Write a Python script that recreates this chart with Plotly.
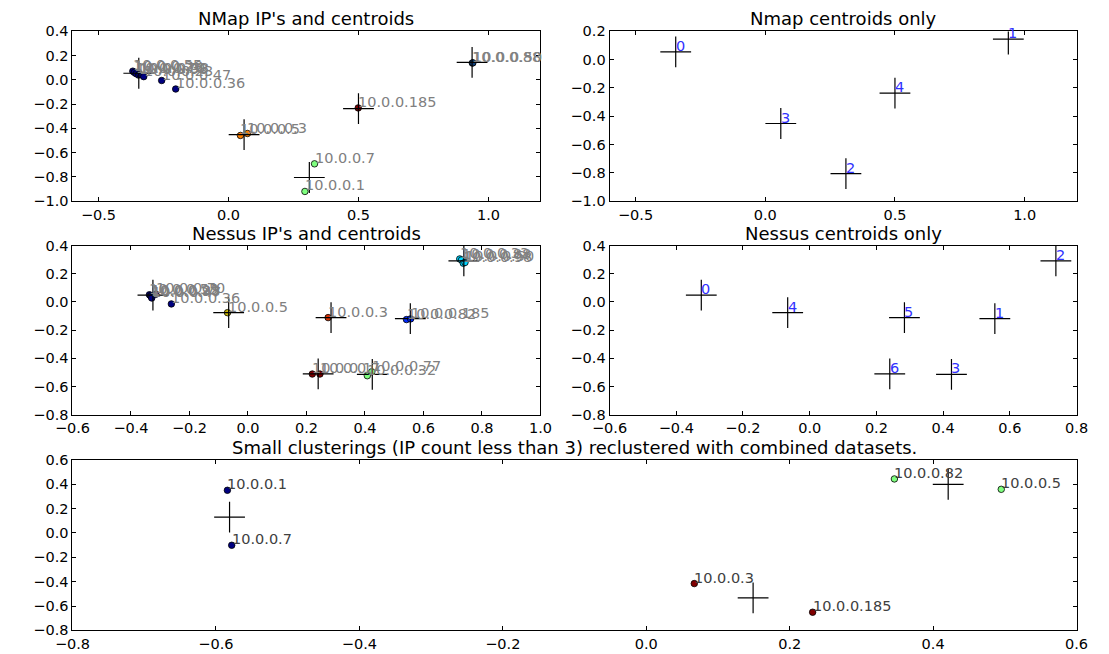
import plotly.graph_objects as go

# ---------------- data ----------------
# NMap IPs (panel 1)
nmap_x = [-0.368, -0.362, -0.355, -0.346, -0.340, -0.326, -0.257, -0.203,
          0.938, 0.940, 0.499, 0.046, 0.073, 0.331, 0.294]
nmap_y = [0.072, 0.062, 0.051, 0.040, 0.045, 0.027, -0.005, -0.075,
          0.139, 0.141, -0.231, -0.458, -0.442, -0.692, -0.920]
nmap_cluster = [0, 0, 0, 0, 0, 0, 0, 0, 1, 1, 4, 3, 3, 2, 2]
nmap_ip = ["10.0.0.55", "10.0.0.20", "10.0.0.70", "10.0.0.98", "10.0.0.33",
           "10.0.0.23", "10.0.0.47", "10.0.0.36", "10.0.0.88", "10.0.0.50",
           "10.0.0.185", "10.0.0.5", "10.0.0.3", "10.0.0.7", "10.0.0.1"]
nmap_colors = ["#000080", "#10407a", "#7fff7f", "#ff8000", "#800000"]

# NMap centroids (panels 1 and 2)
nmap_cx = [-0.345, 0.937, 0.311, 0.060, 0.500]
nmap_cy = [0.055, 0.145, -0.805, -0.451, -0.237]
nmap_cid = ["0", "1", "2", "3", "4"]

# Nessus IPs (panel 3)
nessus_x = [-0.337, -0.333, -0.331, -0.329, -0.315, -0.262,
            -0.070, 0.274, 0.542, 0.556,
            0.724, 0.730, 0.736, 0.742,
            0.220, 0.246, 0.408, 0.423]
nessus_y = [0.051, 0.045, 0.038, 0.028, 0.055, -0.014,
            -0.076, -0.111, -0.125, -0.120,
            0.305, 0.298, 0.275, 0.280,
            -0.511, -0.511, -0.523, -0.495]
nessus_cluster = [0, 0, 0, 0, 0, 0, 4, 5, 1, 1, 2, 2, 2, 2, 6, 6, 3, 3]
nessus_ip = ["10.0.0.55", "10.0.0.23", "10.0.0.98", "10.0.0.47", "10.0.0.70",
             "10.0.0.36", "10.0.0.5", "10.0.0.3", "10.0.0.82", "10.0.0.185",
             "10.0.0.33", "10.0.0.88", "10.0.0.98", "10.0.0.50",
             "10.0.0.1", "10.0.0.7", "10.0.0.32", "10.0.0.77"]
nessus_colors = ["#000080", "#002aff", "#00d4ff", "#7fff7f",
                 "#c8b400", "#d83000", "#800000"]

# Nessus centroids (panels 3 and 4)
nessus_cx = [-0.325, 0.555, 0.738, 0.425, -0.066, 0.284, 0.240]
nessus_cy = [0.048, -0.118, 0.291, -0.513, -0.076, -0.111, -0.510]
nessus_cid = ["0", "1", "2", "3", "4", "5", "6"]

# Small clusterings reclustered (panel 5)
small_x = [-0.584, -0.578, 0.067, 0.232, 0.346, 0.495]
small_y = [0.349, -0.102, -0.416, -0.651, 0.442, 0.357]
small_cluster = [0, 0, 2, 2, 1, 1]
small_ip = ["10.0.0.1", "10.0.0.7", "10.0.0.3", "10.0.0.185", "10.0.0.82", "10.0.0.5"]
small_colors = ["#000080", "#7fff7f", "#800000"]
small_cx = [-0.581, 0.421, 0.149]
small_cy = [0.129, 0.397, -0.534]

# axis ticks
ticks_x_nmap = [-0.5, 0.0, 0.5, 1.0]
ticks_y_nmap = [0.4, 0.2, 0.0, -0.2, -0.4, -0.6, -0.8, -1.0]
ticks_y_nmap_c = [0.2, 0.0, -0.2, -0.4, -0.6, -0.8, -1.0]
ticks_x_nessus = [-0.6, -0.4, -0.2, 0.0, 0.2, 0.4, 0.6, 0.8, 1.0]
ticks_x_nessus_c = [-0.6, -0.4, -0.2, 0.0, 0.2, 0.4, 0.6, 0.8]
ticks_y_nessus = [0.4, 0.2, 0.0, -0.2, -0.4, -0.6, -0.8]
ticks_x_small = [-0.8, -0.6, -0.4, -0.2, 0.0, 0.2, 0.4, 0.6]
ticks_y_small = [0.6, 0.4, 0.2, 0.0, -0.2, -0.4, -0.6, -0.8]

titles = ["NMap IP's and centroids", "Nmap centroids only",
          "Nessus IP's and centroids", "Nessus centroids only",
          "Small clusterings (IP count less than 3) reclustered with combined datasets."]

# ---------------- figure ----------------
W, H = 1109, 654
FONT = "DejaVu Sans"
fig = go.Figure()

def px_x(a, b):
    return [a / W, b / W]

def px_y(top, bottom):
    return [1 - bottom / H, 1 - top / H]

panels = [
    # (xdomain, ydomain, xrange, yrange, xticks, yticks)
    (px_x(56, 537), px_y(24, 198), [-0.6, 1.2], [-1.0, 0.4], ticks_x_nmap, ticks_y_nmap),
    (px_x(608, 1088), px_y(24, 198), [-0.6, 1.2], [-1.0, 0.2], ticks_x_nmap, ticks_y_nmap_c),
    (px_x(56, 537), px_y(243.5, 417), [-0.6, 1.0], [-0.8, 0.4], ticks_x_nessus, ticks_y_nessus),
    (px_x(608, 1088), px_y(243.5, 417), [-0.6, 0.8], [-0.8, 0.4], ticks_x_nessus_c, ticks_y_nessus),
    (px_x(56, 1088), px_y(463, 638), [-0.8, 0.6], [-0.8, 0.6], ticks_x_small, ticks_y_small),
]

layout = dict(width=W, height=H, autosize=False,
              margin=dict(l=0, r=0, t=0, b=0),
              paper_bgcolor="white", plot_bgcolor="white",
              showlegend=False, font=dict(family=FONT, size=14, color="black"))
annotations = []
for i, (xd, yd, xr, yr, xt, yt) in enumerate(panels):
    n = "" if i == 0 else str(i + 1)
    common = dict(showline=True, linecolor="black", linewidth=1, mirror="allticks",
                  ticks="inside", ticklen=4, tickwidth=1, tickcolor="black",
                  showgrid=False, zeroline=False, tickformat=".1f",
                  tickfont=dict(family=FONT, size=14.5, color="black"), fixedrange=True)
    layout["xaxis" + n] = dict(domain=xd, range=xr, tickvals=xt, anchor="y" + n, **common)
    layout["yaxis" + n] = dict(domain=yd, range=yr, tickvals=yt, anchor="x" + n, **common)
    annotations.append(dict(text=titles[i], xref="paper", yref="paper",
                            x=(xd[0] + xd[1]) / 2, y=yd[1], yshift=0,
                            xanchor="center", yanchor="bottom", showarrow=False,
                            font=dict(family=FONT, size=18, color="black")))

def add_points(xs, ys, cl, colors, ax):
    fig.add_trace(go.Scatter(x=xs, y=ys, mode="markers", xaxis="x" + ax, yaxis="y" + ax,
                             marker=dict(size=6.5, color=[colors[c] for c in cl],
                                         line=dict(color="black", width=0.8)),
                             hoverinfo="skip"))

def add_cross(xs, ys, ax):
    fig.add_trace(go.Scatter(x=xs, y=ys, mode="markers", xaxis="x" + ax, yaxis="y" + ax,
                             marker=dict(symbol="cross-thin", size=22,
                                         line=dict(color="black", width=1.2)),
                             hoverinfo="skip"))

def add_labels(xs, ys, texts, ax, color):
    for x, y, t in zip(xs, ys, texts):
        annotations.append(dict(text=t, x=x, y=y, xref="x" + ax, yref="y" + ax,
                                xanchor="left", yanchor="bottom", showarrow=False,
                                yshift=-4, xshift=-2,
                                font=dict(family=FONT, size=14.5, color=color)))

# panel 1
add_points(nmap_x, nmap_y, nmap_cluster, nmap_colors, "")
add_cross(nmap_cx, nmap_cy, "")
add_labels(nmap_x, nmap_y, nmap_ip, "", "#808080")
# panel 2
add_cross(nmap_cx, nmap_cy, "2")
add_labels(nmap_cx, nmap_cy, nmap_cid, "2", "#3030ff")
# panel 3
add_points(nessus_x, nessus_y, nessus_cluster, nessus_colors, "3")
add_cross(nessus_cx, nessus_cy, "3")
add_labels(nessus_x, nessus_y, nessus_ip, "3", "#808080")
# panel 4
add_cross(nessus_cx, nessus_cy, "4")
add_labels(nessus_cx, nessus_cy, nessus_cid, "4", "#3030ff")
# panel 5
add_points(small_x, small_y, small_cluster, small_colors, "5")
add_cross(small_cx, small_cy, "5")
add_labels(small_x, small_y, small_ip, "5", "#404040")

layout["annotations"] = annotations
fig.update_layout(**layout)
fig.write_html("out.html", config={"displayModeBar": False, "staticPlot": True})

# remove the default page margin so the figure sits at the window's top-left corner
with open("out.html", "r", encoding="utf-8") as f:
    html = f.read()
html = html.replace("<head>", "<head><style>html,body{margin:0;padding:0;overflow:hidden;}</style>", 1)
with open("out.html", "w", encoding="utf-8") as f:
    f.write(html)
